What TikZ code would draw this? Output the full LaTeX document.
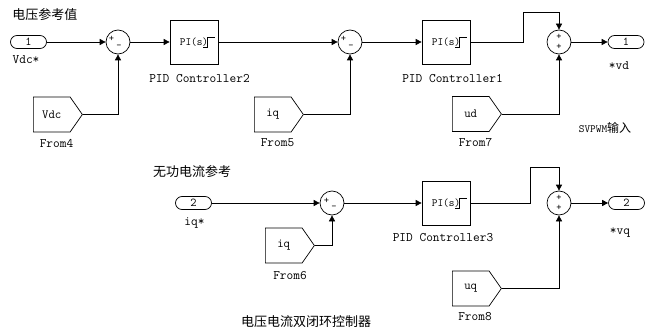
\documentclass[tikz,border=0pt]{standalone}
\usepackage{fontspec}
\newfontfamily\cjk{Noto Sans CJK SC}
\usetikzlibrary{arrows.meta,calc,shapes.symbols}
\newcommand{\satmark}[1]{\draw[line width=0.9pt] ($(#1.east)+(-15,5)$) -- ++(4,0) -- ++(0,-10) -- ++(8,0);}

\begin{document}
\begin{tikzpicture}[x=1pt,y=-1pt,>={Triangle[length=6pt,width=6pt]},line width=0.7pt,
  port/.style={draw,rounded corners=6.5pt,minimum width=36pt,minimum height=13pt,inner sep=0pt,font=\ttfamily\fontsize{12}{12}\selectfont},
  sumblk/.style={draw,circle,minimum size=24pt,inner sep=0pt},
  pidblk/.style={draw,minimum width=48pt,minimum height=44pt,inner sep=0pt,font=\ttfamily\fontsize{11}{11}\selectfont},
  fromblk/.style={draw,signal,signal to=east,signal pointer angle=110,minimum width=49pt,minimum height=35pt,inner sep=0pt,anchor=west,font=\ttfamily\fontsize{12.5}{12.5}\selectfont},
  lbl/.style={font=\ttfamily\fontsize{13}{13}\selectfont,inner sep=0pt},
  sgn/.style={font=\ttfamily\fontsize{10}{10}\selectfont,inner sep=0pt},
  cn/.style={font=\cjk\fontsize{13}{13}\selectfont,inner sep=0pt}]
  \useasboundingbox (0,0) rectangle (645,329);
  % titles
  \node[cn] (tvdc) at (45,15) {电压参考值};
  \node[cn] (tiq) at (192,172) {无功电流参考};
  \node[cn] (tall) at (306,322) {电压电流双闭环控制器};
  \node[inner sep=0pt] (tsv) at (605,128) {{\ttfamily\fontsize{11}{11}\selectfont SVPWM}{\cjk\fontsize{12}{12}\selectfont 输入}};
  % d axis row
  \node[port] (in1) at (28.5,42) {1};
  \node[lbl] at (26,60) (lin1) {Vdc*};
  \node[sumblk] (sum1) at (118,42) {};
  \node[sgn] (s1p) at (111.5,38.5) {+};
  \node[sgn] (s1m) at (119,47) {-};
  \node[pidblk] (pid2) at (194,42) {PI(s)\hspace{13pt}};
  \satmark{pid2}
  \node[lbl] (lpid2) at (199.5,79) {PID Controller2};
  \node[fromblk] (from4) at (33,114.5) {Vdc};
  \node[lbl] (lf4) at (56.5,143) {From4};
  \node[sumblk] (sum2) at (350,42) {};
  \node[sgn] (s2p) at (343.5,39) {+};
  \node[sgn] (s2m) at (351,47) {-};
  \node[fromblk] (from5) at (254,114.5) {iq};
  \node[lbl] (lf5) at (277.5,143) {From5};
  \node[pidblk] (pid1) at (446,42) {PI(s)\hspace{13pt}};
  \satmark{pid1}
  \node[lbl] (lpid1) at (452.5,79) {PID Controller1};
  \node[sumblk] (sum3) at (559,42) {};
  \node[sgn] (s3a) at (559,37) {+};
  \node[sgn] (s3b) at (559,47) {+};
  \node[fromblk] (from7) at (452,114) {ud};
  \node[lbl] (lf7) at (475.5,143) {From7};
  \node[port] (out1) at (626,42) {1};
  \node[lbl] (lout1) at (619,66) {*vd};
  \coordinate (k1) at (523,12);
  \draw[->] (in1) -- (sum1);
  \draw[->] (sum1) -- (pid2);
  \draw[->] (from4.east) -| (sum1.south);
  \draw[->] (pid2) -- (sum2);
  \draw[->] (from5.east) -| (sum2.south);
  \draw[->] (sum2) -- (pid1);
  \draw (pid1.east) -| (k1);
  \draw[->] (k1) -| (sum3.north);
  \draw[->] (from7.east) -| (sum3.south);
  \draw[->] (sum3) -- (out1);
  % q axis row
  \node[port] (in2) at (193.5,203) {2};
  \node[lbl] (lin2) at (194.5,223) {iq*};
  \node[sumblk] (sum4) at (332,203) {};
  \node[sgn] (s4p) at (326.5,200.5) {+};
  \node[sgn] (s4m) at (334,208) {-};
  \node[fromblk] (from6) at (265,245.5) {iq};
  \node[lbl] (lf6) at (290,276) {From6};
  \node[pidblk] (pid3) at (446,203) {PI(s)\hspace{13pt}};
  \satmark{pid3}
  \node[lbl] (lpid3) at (443,238) {PID Controller3};
  \node[sumblk] (sum5) at (559,203) {};
  \node[sgn] (s5a) at (559,198) {+};
  \node[sgn] (s5b) at (559,208) {+};
  \node[fromblk] (from8) at (452,288.5) {uq};
  \node[lbl] (lf8) at (475,317) {From8};
  \node[port] (out2) at (626.5,203) {2};
  \node[lbl] (lout2) at (620,233) {*vq};
  \coordinate (k2) at (530,167);
  \draw[->] (in2) -- (sum4);
  \draw[->] (from6.east) -| (sum4.south);
  \draw[->] (sum4) -- (pid3);
  \draw (pid3.east) -| (k2);
  \draw[->] (k2) -| (sum5.north);
  \draw[->] (from8.east) -| (sum5.south);
  \draw[->] (sum5) -- (out2);
\end{tikzpicture}
\end{document}
